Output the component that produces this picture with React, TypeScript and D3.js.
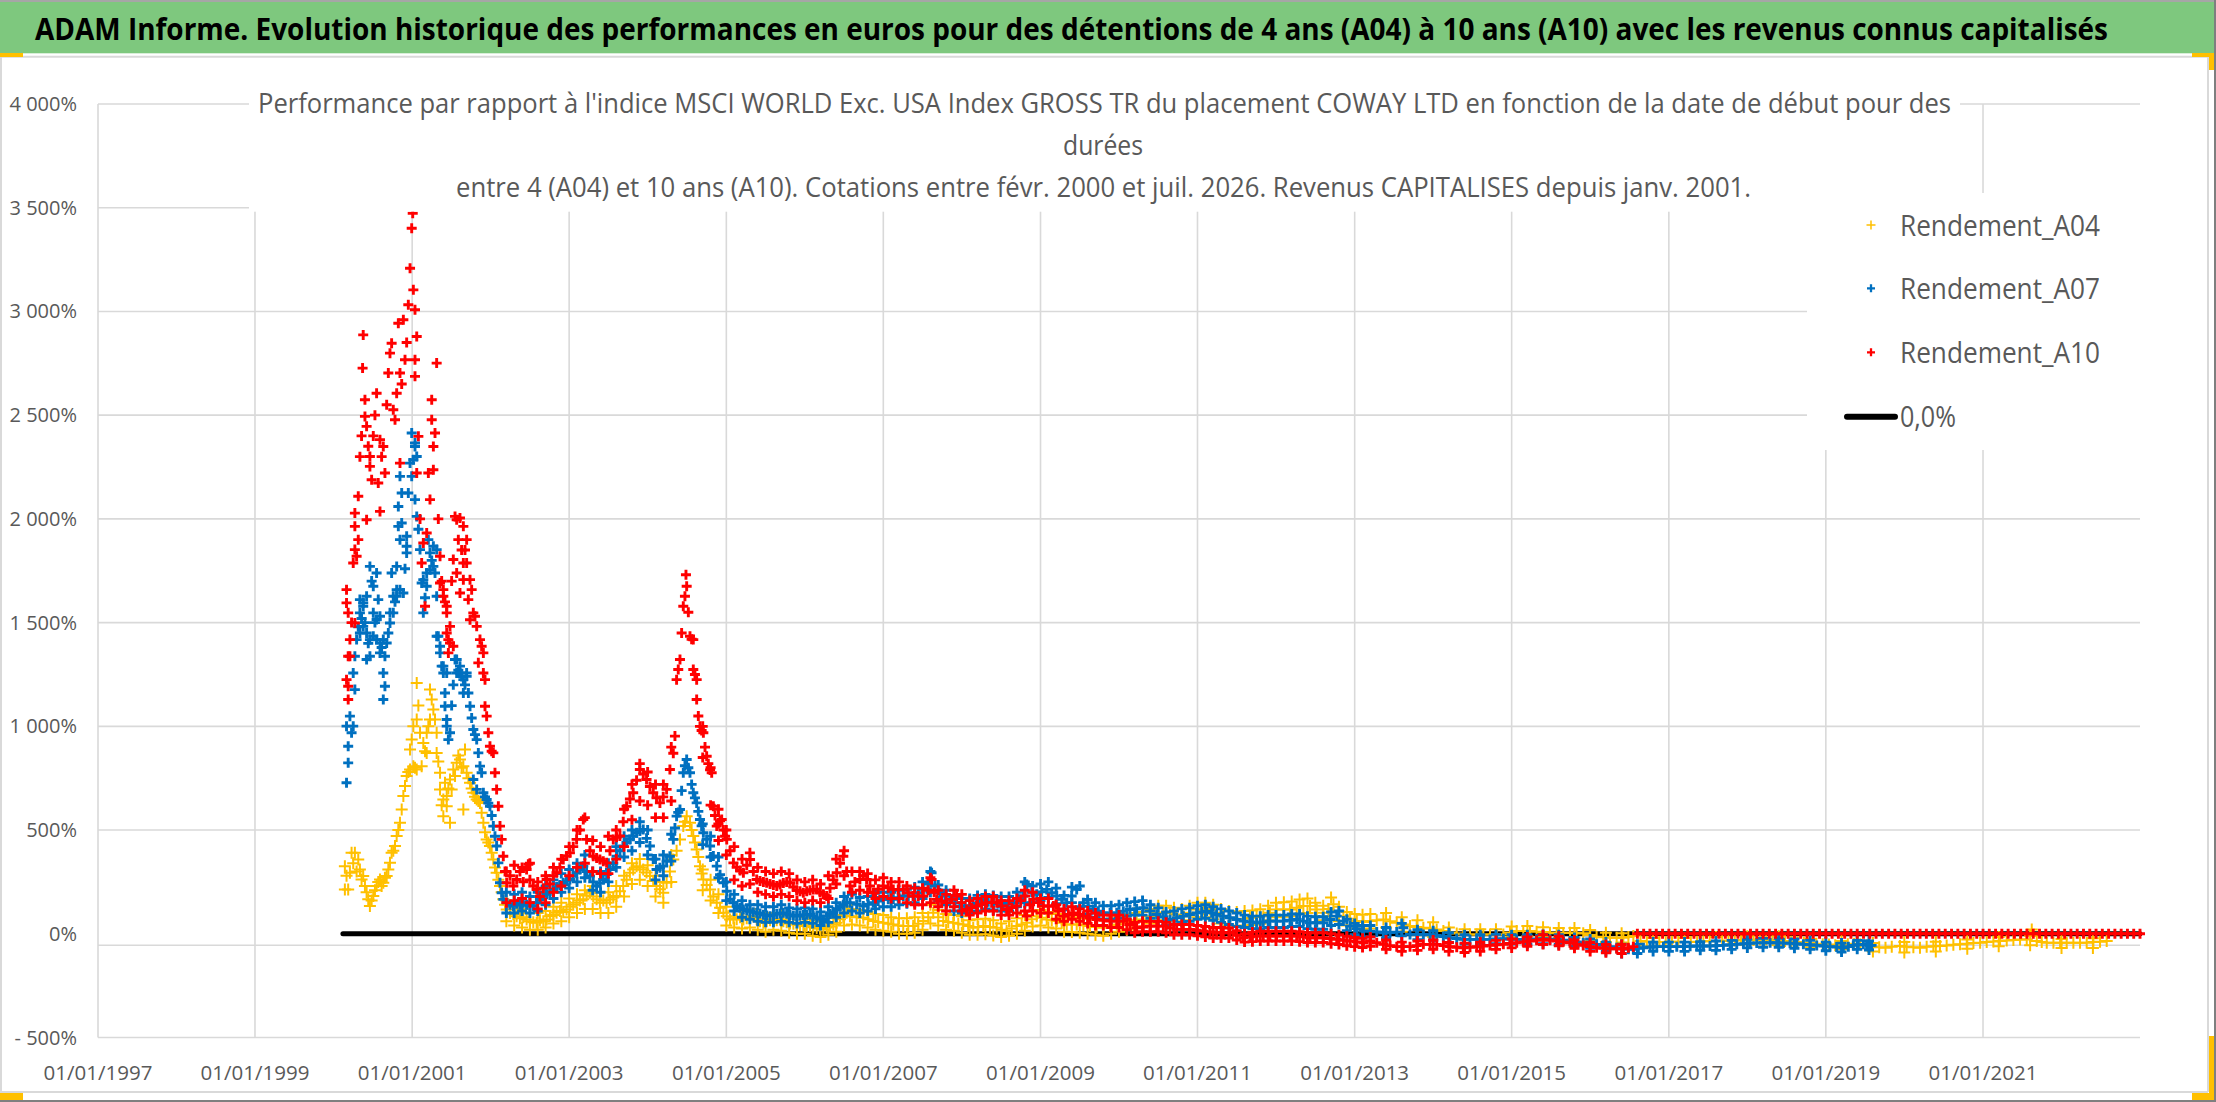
import React from "react";
import * as d3 from "d3";

// [decimal year of start date, performance in %] — single readings and spikes
const A04: [number, number][] = [
  [2000.145,326],[2000.145,214],[2000.166,280],[2000.187,214],[2000.209,294],[2000.230,390],[2000.251,340],[2000.272,390],[2000.294,300],[2000.315,358],[2000.336,310],[2000.357,262],[2000.378,278],[2000.400,230],[2000.421,200],[2000.442,166],[2000.463,134],[2000.485,160],[2000.506,182],[2000.527,210],[2000.548,230],[2000.569,250],[2000.591,262],[2000.612,230],[2000.633,246],[2000.654,270],[2000.676,278],[2000.697,310],[2000.718,342],[2000.739,390],[2000.760,400],[2000.782,423],[2000.803,471],[2000.824,500],[2000.845,535],[2000.867,599],[2000.888,664],[2000.909,712],[2000.930,760],[2000.951,780],[2000.973,792],[2000.994,936],[2001.015,808],[2001.015,1001],[2001.036,800],[2001.058,792],[2001.058,1033],[2001.058,1209],[2000.973,888],[2001.079,1100],[2001.100,969],[2001.121,808],[2001.142,920],[2001.164,880],[2001.185,969],[2001.185,872],[2001.206,1000],[2001.227,1033],[2001.227,1177],[2001.249,1129],[2001.270,1081],[2001.291,1033],[2001.312,969],[2001.312,872],[2001.333,830],[2001.355,776],[2001.355,696],[2001.376,620],[2001.397,647],[2001.397,567],[2001.418,728],[2001.440,615],[2001.440,664],[2001.461,700],[2001.482,535],[2001.482,744],[2001.503,696],[2001.524,792],[2001.546,760],[2001.567,824],[2001.588,860],[2001.609,840],[2001.630,800],[2001.652,808],[2001.652,599],[2001.673,888],[2001.694,776],[2001.716,750],[2001.737,728],[2001.758,700],[2001.779,680],[2001.800,660],[2001.822,647],[2001.843,640],[2001.864,631],[2001.885,583],[2001.907,535],[2001.928,490],[2001.949,455],[2001.970,440],[2001.991,423],[2002.013,390],[2002.034,358],[2002.055,320],[2002.076,294],[2002.098,260],[2002.119,230],[2002.140,200],[2002.161,166],
  [2002.183,140],[2002.204,117],[2002.246,100],[2002.289,95],[2002.331,85],[2002.373,75],[2002.416,80],[2002.458,69],[2002.500,60],[2002.543,55],[2002.586,53],[2002.628,65],[2002.671,60],[2002.713,69],[2002.755,85],[2002.798,90],[2002.840,101],[2002.882,110],[2002.925,105],[2002.967,117],[2003.010,130],[2003.052,140],[2003.095,150],[2003.137,160],[2003.180,166],[2003.222,185],[2003.265,198],[2003.307,180],[2003.350,166],[2003.392,150],[2003.435,160],[2003.477,150],[2003.520,165],[2003.562,175],[2003.604,182],[2003.647,205],[2003.689,230],[2003.732,260],[2003.774,294],[2003.816,310],[2003.859,326],[2003.901,320],[2003.944,310],[2003.986,295],[2004.029,278],[2004.071,255],[2004.113,230],[2004.156,215],[2004.198,198],[2004.241,246],[2004.283,300],[2004.326,358],[2004.368,400],[2004.411,455],[2004.453,519],[2004.474,540],[2004.496,567],[2004.538,535],[2004.559,500],[2004.580,471],[2004.601,440],[2004.623,406],[2004.644,370],[2004.665,326],[2004.686,290],[2004.708,262],[2004.750,235],[2004.793,214],[2004.835,180],[2004.878,150],[2004.920,125],[2004.963,101],[2005.005,85],[2005.047,69],[2005.090,75],[2005.132,70],[2005.175,80],[2005.217,69],[2005.260,75],[2005.302,80],[2005.344,85],[2005.387,70],[2005.429,60],[2005.472,53],[2005.514,60],[2005.557,65],[2005.599,70],[2005.642,65],[2005.684,69],[2005.726,60],[2005.769,55],[2005.811,50],[2005.854,48],[2005.896,45],[2005.939,42],[2005.981,40],[2006.024,38],[2006.066,37],[2006.108,32],[2006.151,28],[2006.193,25],[2006.236,21],[2006.278,30],[2006.321,35],[2006.363,45],[2006.406,53],[2006.448,70],[2006.490,85],[2006.533,101],
  [2006.575,85],[2006.660,80],[2006.745,77],[2006.808,70],[2006.872,61],[2006.935,57],[2006.999,53],[2007.063,48],[2007.127,45],[2007.190,40],[2007.254,37],[2007.318,38],[2007.381,37],[2007.445,48],[2007.509,61],[2007.572,80],[2007.636,101],[2007.700,80],[2007.764,61],[2007.827,57],[2007.891,53],[2007.955,48],[2008.018,45],[2008.082,37],[2008.145,29],[2008.209,33],[2008.273,37],[2008.358,33],[2008.443,29],[2008.506,20],[2008.570,13],[2008.633,25],[2008.697,37],[2008.761,45],[2008.825,53],[2008.889,70],[2008.952,85],[2009.015,77],[2009.079,69],[2009.143,65],[2009.207,61],[2009.270,53],[2009.334,45],[2009.397,45],[2009.461,45],[2009.546,41],[2009.631,37],[2009.716,33],[2009.801,29],[2009.886,37],[2009.971,45],[2010.055,53],[2010.140,61],[2010.225,65],[2010.310,69],[2010.395,85],[2010.480,101],[2010.565,101],[2010.650,101],[2010.735,93],[2010.820,85],[2010.904,101],[2010.989,117],[2011.074,117],[2011.159,117],[2011.244,101],[2011.329,85],[2011.414,77],[2011.499,69],[2011.584,73],[2011.668,77],[2011.753,81],[2011.838,85],[2011.923,101],[2012.008,117],[2012.093,117],[2012.178,117],[2012.263,126],[2012.348,134],[2012.433,134],[2012.518,117],[2012.602,101],[2012.666,120],[2012.730,142],[2012.793,110],[2012.857,85],[2012.942,73],[2013.027,61],[2013.112,57],
  [2013.196,61],[2013.281,65],[2013.366,69],[2013.451,60],[2013.536,53],[2013.620,45],[2013.705,37],[2013.790,33],[2013.875,29],[2013.960,25],[2014.045,21],[2014.130,13],[2014.215,5],[2014.300,1],[2014.384,-3],[2014.469,-3],[2014.554,-3],[2014.639,-3],[2014.724,-3],[2014.809,-3],[2014.894,-3],[2014.979,5],[2015.064,13],[2015.148,13],[2015.233,13],[2015.318,10],[2015.403,8],[2015.488,5],[2015.573,2],[2015.658,4],[2015.743,5],[2015.827,3],[2015.912,2],[2015.997,-6],[2016.082,-14],[2016.167,-17],[2016.252,-19],[2016.337,-19],[2016.422,-19],[2016.486,-15],[2016.549,-11],
  [2016.640,-35],[2016.720,-38],[2016.800,-38],[2016.880,-40],[2016.960,-40],[2017.040,-38],[2017.120,-38],[2017.200,-40],[2017.280,-40],[2017.360,-38],[2017.440,-36],[2017.520,-36],[2017.600,-35],[2017.680,-35],[2017.760,-33],[2017.840,-32],[2017.920,-30],[2018.000,-30],[2018.080,-30],[2018.160,-28],[2018.240,-28],[2018.320,-30],[2018.400,-32],[2018.480,-35],[2018.560,-38],[2018.640,-40],[2018.720,-42],[2018.800,-45],[2018.880,-48],[2018.960,-50],[2019.040,-52],[2019.120,-55],[2019.200,-55],[2019.280,-50],[2019.360,-48],[2019.440,-50],[2019.520,-55],[2019.600,-62],[2019.680,-65],[2019.760,-67],[2019.840,-62],[2019.944,-59],[2020.030,-62],[2020.115,-65],[2020.199,-67],[2020.284,-63],[2020.369,-60],[2020.453,-59],[2020.538,-56],[2020.623,-53],[2020.708,-51],[2020.793,-48],[2020.878,-45],[2020.963,-43],[2021.047,-40],[2021.132,-37],[2021.217,-35],[2021.302,-32],[2021.387,-30],[2021.472,-28],[2021.557,-27],[2021.621,21],[2021.685,-35],[2021.748,-40],[2021.812,-43],[2021.897,-43],[2021.982,-43],[2022.066,-43],[2022.151,-43],[2022.236,-43],[2022.321,-43],[2022.406,-40],[2022.491,-38],[2022.576,-35],
];

const A07: [number, number][] = [
  [2000.166,728],[2000.166,1001],[2000.187,824],[2000.187,904],[2000.209,1049],[2000.230,969],[2000.251,1001],[2000.251,1257],[2000.272,1177],[2000.272,1338],[2000.294,1418],[2000.315,1480],[2000.336,1450],[2000.336,1611],[2000.336,1547],[2000.357,1520],[2000.378,1482],[2000.378,1579],[2000.378,1595],[2000.400,1500],[2000.421,1450],[2000.421,1627],[2000.421,1322],[2000.442,1400],[2000.463,1418],[2000.463,1338],[2000.463,1771],[2000.485,1700],[2000.506,1434],[2000.506,1675],[2000.506,1547],[2000.527,1500],[2000.548,1418],[2000.548,1739],[2000.548,1515],[2000.569,1611],[2000.591,1402],[2000.591,1531],[2000.591,1354],[2000.612,1380],[2000.633,1418],[2000.633,1257],[2000.633,1129],[2000.654,1338],[2000.654,1193],[2000.676,1402],[2000.697,1450],[2000.718,1498],[2000.718,1547],[2000.739,1739],[2000.760,1547],[2000.760,1627],[2000.782,1600],[2000.803,1627],[2000.803,1771],[2000.803,1659],[2000.824,2060],[2000.824,1964],[2000.845,1659],[2000.845,1900],[2000.845,2205],[2000.867,1980],[2000.867,2125],[2000.888,1643],[2000.909,1760],[2000.930,1916],[2000.930,1836],[2000.930,1868],[2000.951,2125],[2000.973,2269],[2000.994,2205],[2000.994,2414],[2001.015,2285],[2001.036,2349],[2001.036,2366],[2001.036,2093],[2001.058,2012],[2001.058,2301],[2001.079,1950],[2001.100,1852],[2001.121,1691],[2001.142,1707],[2001.142,1547],[2001.164,1620],[2001.185,1675],[2001.185,1739],[2001.206,1900],[2001.227,1755],[2001.227,1836],[2001.249,1800],[2001.270,1771],[2001.270,1868],[2001.291,1739],[2001.312,1852],[2001.312,1627],[2001.312,1434],[2001.333,1434],[2001.355,1386],[2001.355,1354],[2001.376,1290],[2001.397,1257],[2001.397,1290],[2001.418,1161],[2001.418,1097],[2001.440,1001],[2001.440,1257],[2001.440,1033],[2001.461,936],[2001.482,969],[2001.503,1100],[2001.524,1200],[2001.546,1322],[2001.567,1257],[2001.567,1322],[2001.588,1270],[2001.609,1290],[2001.609,1257],[2001.630,1240],[2001.652,1225],[2001.652,1161],[2001.673,1200],[2001.694,1257],[2001.694,1241],[2001.716,1161],[2001.737,1097],[2001.758,1040],[2001.779,985],[2001.779,744],[2001.800,960],[2001.822,936],[2001.822,696],[2001.843,872],[2001.864,808],[2001.885,776],[2001.907,680],[2001.928,660],[2001.949,647],[2001.970,630],[2001.991,615],[2002.013,570],[2002.034,519],[2002.055,470],[2002.076,423],[2002.098,342],[2002.119,246],[2002.140,198],[2002.161,166],
  [2002.204,150],[2002.246,140],[2002.289,134],[2002.331,145],[2002.373,140],[2002.416,150],[2002.458,140],[2002.500,135],[2002.543,134],[2002.586,150],[2002.628,165],[2002.671,182],[2002.713,190],[2002.755,200],[2002.798,214],[2002.840,225],[2002.882,235],[2002.925,246],[2002.967,255],[2003.010,262],[2003.052,280],[2003.095,294],[2003.137,310],[2003.180,326],[2003.222,300],[2003.265,278],[2003.307,250],[2003.350,230],[2003.392,245],[2003.435,262],[2003.477,285],[2003.520,310],[2003.562,340],[2003.604,374],[2003.647,400],[2003.689,423],[2003.732,440],[2003.774,455],[2003.816,470],[2003.859,487],[2003.901,495],[2003.944,503],[2003.986,460],[2004.029,423],[2004.071,360],[2004.113,310],[2004.156,318],[2004.198,326],[2004.241,350],[2004.283,374],[2004.326,455],[2004.347,510],[2004.368,567],[2004.389,585],[2004.411,599],[2004.432,690],[2004.453,776],[2004.474,810],[2004.496,840],[2004.517,800],[2004.538,776],[2004.559,720],[2004.580,680],[2004.601,655],[2004.623,631],[2004.644,590],[2004.665,551],[2004.686,520],[2004.708,487],[2004.750,455],[2004.793,423],[2004.835,375],[2004.878,326],[2004.920,285],[2004.963,246],[2005.005,205],[2005.047,166],[2005.090,150],[2005.132,135],[2005.175,125],[2005.217,117],[2005.260,112],[2005.302,108],[2005.344,104],[2005.387,101],[2005.429,98],[2005.472,92],[2005.514,88],[2005.557,85],[2005.599,90],[2005.642,95],[2005.684,98],[2005.726,101],[2005.769,96],[2005.811,90],[2005.854,87],[2005.896,85],[2005.939,88],[2005.981,91],[2006.024,92],[2006.066,93],[2006.108,85],[2006.151,78],[2006.193,73],[2006.236,69],[2006.278,85],[2006.321,95],[2006.363,105],[2006.406,117],[2006.448,130],[2006.490,140],[2006.533,150],
  [2006.575,150],[2006.660,142],[2006.745,134],[2006.808,142],[2006.872,150],[2006.935,158],[2006.999,166],[2007.063,166],[2007.127,166],[2007.190,174],[2007.254,182],[2007.318,182],[2007.381,182],[2007.445,198],[2007.509,214],[2007.572,240],[2007.615,294],[2007.658,230],[2007.721,198],[2007.785,182],[2007.848,166],[2007.912,150],[2007.976,134],[2008.040,134],[2008.103,134],[2008.188,146],[2008.273,158],[2008.336,154],[2008.400,150],[2008.464,146],[2008.528,142],[2008.591,146],[2008.655,150],[2008.718,166],[2008.782,182],[2008.825,238],[2008.888,200],[2008.952,190],[2009.015,202],[2009.079,214],[2009.143,198],[2009.207,182],[2009.270,166],[2009.334,150],[2009.397,182],[2009.461,214],[2009.546,150],[2009.610,133],[2009.674,117],[2009.737,109],[2009.801,101],[2009.886,101],[2009.971,101],[2010.055,109],[2010.140,117],[2010.225,121],[2010.310,126],[2010.395,110],[2010.480,93],[2010.565,81],[2010.650,69],[2010.735,77],[2010.820,85],[2010.904,93],[2010.989,101],[2011.053,105],[2011.117,109],[2011.180,101],[2011.244,93],[2011.329,85],[2011.414,77],[2011.499,69],[2011.584,61],[2011.668,57],[2011.753,53],[2011.838,57],[2011.923,61],[2012.008,61],[2012.093,61],[2012.178,65],[2012.263,69],[2012.348,61],[2012.433,53],[2012.518,53],[2012.602,53],[2012.687,69],[2012.772,85],[2012.857,61],[2012.942,37],[2013.027,25],[2013.112,13],
  [2013.196,13],[2013.281,9],[2013.366,5],[2013.451,6],[2013.536,8],[2013.620,29],[2013.705,-3],[2013.790,-3],[2013.875,-3],[2013.960,-5],[2014.045,-8],[2014.130,-13],[2014.215,-19],[2014.300,-23],[2014.384,-27],[2014.469,-27],[2014.554,-27],[2014.639,-27],[2014.724,-27],[2014.809,-25],[2014.894,-24],[2014.979,-26],[2015.064,-27],[2015.148,-27],[2015.233,-27],[2015.318,-25],[2015.403,-24],[2015.488,-26],[2015.573,-27],[2015.658,-31],[2015.743,-35],[2015.827,-39],[2015.912,-43],[2015.997,-47],[2016.082,-51],[2016.167,-56],[2016.252,-62],[2016.337,-67],[2016.422,-72],[2016.486,-74],[2016.549,-75],[2016.613,-70],[2016.677,-67],[2016.762,-64],[2016.846,-62],[2016.931,-62],[2017.016,-62],[2017.101,-62],[2017.186,-62],[2017.271,-60],[2017.356,-59],[2017.441,-59],[2017.525,-59],[2017.610,-57],[2017.695,-56],[2017.780,-53],[2017.865,-51],[2017.950,-48],[2018.035,-46],[2018.120,-44],[2018.205,-43],[2018.290,-43],[2018.374,-43],[2018.459,-45],[2018.544,-46],[2018.629,-48],[2018.714,-51],[2018.799,-53],[2018.884,-56],[2018.969,-59],[2019.053,-62],[2019.138,-64],[2019.223,-67],[2019.287,-62],[2019.350,-56],[2019.414,-53],[2019.478,-51],[2019.520,-53],[2019.563,-56],[2019.583,-56],
];

const A10: [number, number][] = [
  [2000.166,1659],[2000.166,1595],[2000.166,1225],[2000.187,1547],[2000.187,1338],[2000.187,1193],[2000.187,1129],[2000.209,1418],[2000.209,1338],[2000.230,1500],[2000.251,1787],[2000.272,2028],[2000.272,1964],[2000.272,1852],[2000.272,1498],[2000.294,1820],[2000.315,2109],[2000.315,1900],[2000.336,2300],[2000.357,2400],[2000.370,2727],[2000.378,2887],[2000.400,2574],[2000.400,2494],[2000.421,2446],[2000.421,1996],[2000.442,2350],[2000.463,2301],[2000.463,2253],[2000.485,2189],[2000.506,2400],[2000.527,2500],[2000.548,2606],[2000.569,2173],[2000.591,2382],[2000.591,2036],[2000.612,2300],[2000.633,2349],[2000.654,2221],[2000.676,2550],[2000.697,2703],[2000.718,2799],[2000.739,2847],[2000.760,2526],[2000.782,2478],[2000.803,2606],[2000.824,2943],[2000.845,2703],[2000.845,2269],[2000.867,2650],[2000.888,2960],[2000.909,2767],[2000.930,2850],[2000.951,3032],[2000.973,3208],[2000.994,3401],[2001.007,3473],[2001.015,3104],[2001.036,3008],[2001.036,2767],[2001.036,2687],[2001.058,2879],[2001.058,2221],[2001.079,2398],[2001.100,2000],[2001.121,1787],[2001.142,1884],[2001.164,1579],[2001.185,1932],[2001.206,2221],[2001.227,2093],[2001.249,2574],[2001.249,2478],[2001.270,2349],[2001.270,2237],[2001.291,2414],[2001.312,2751],[2001.333,2000],[2001.355,1820],[2001.355,1691],[2001.376,1700],[2001.397,1659],[2001.397,1627],[2001.418,1600],[2001.440,1579],[2001.440,1450],[2001.440,1547],[2001.461,1354],[2001.461,1418],[2001.482,1402],[2001.482,1482],[2001.503,1700],[2001.524,1804],[2001.524,1386],[2001.546,2012],[2001.567,1996],[2001.567,1739],[2001.588,1900],[2001.609,2004],[2001.609,1643],[2001.630,1850],[2001.652,1964],[2001.652,1707],[2001.652,1787],[2001.673,1850],[2001.694,1900],[2001.694,1787],[2001.715,1611],[2001.737,1514],[2001.737,1707],[2001.758,1659],[2001.779,1547],[2001.800,1531],[2001.822,1482],[2001.843,1306],[2001.864,1418],[2001.885,1386],[2001.907,1257],[2001.907,1354],[2001.928,1225],[2001.928,1097],[2001.949,1049],[2001.970,969],[2001.991,904],[2002.013,880],[2002.034,872],[2002.055,776],[2002.076,696],[2002.098,615],[2002.119,519],[2002.140,455],[2002.161,374],
  [2002.183,300],[2002.204,246],[2002.246,280],[2002.289,230],[2002.331,262],[2002.373,300],[2002.416,250],[2002.458,310],[2002.480,335],[2002.500,260],[2002.543,230],[2002.586,214],[2002.628,180],[2002.671,220],[2002.713,262],[2002.755,240],[2002.798,280],[2002.840,294],[2002.882,320],[2002.925,358],[2002.967,375],[2003.010,390],[2003.052,420],[2003.095,455],[2003.137,500],[2003.180,551],[2003.222,455],[2003.265,400],[2003.307,374],[2003.350,365],[2003.392,358],[2003.435,350],[2003.477,342],[2003.520,400],[2003.562,455],[2003.604,465],[2003.647,471],[2003.689,540],[2003.732,615],[2003.774,650],[2003.816,680],[2003.859,740],[2003.901,792],[2003.944,770],[2003.986,744],[2004.029,710],[2004.071,680],[2004.113,655],[2004.156,631],[2004.198,660],[2004.241,696],[2004.283,792],[2004.326,870],[2004.347,953],[2004.368,1225],[2004.389,1274],[2004.411,1322],[2004.432,1450],[2004.453,1579],[2004.474,1627],[2004.487,1731],[2004.496,1675],[2004.517,1550],[2004.538,1434],[2004.559,1420],[2004.580,1418],[2004.580,1274],[2004.601,1250],[2004.623,1225],[2004.623,1129],[2004.644,1050],[2004.665,1000],[2004.686,980],[2004.708,969],[2004.729,900],[2004.750,856],[2004.771,820],[2004.793,790],[2004.814,776],[2004.835,615],[2004.856,570],[2004.878,519],[2004.899,530],[2004.920,545],[2004.941,551],[2004.963,500],[2004.984,470],[2005.005,455],[2005.047,400],[2005.090,342],[2005.132,320],[2005.175,305],[2005.217,294],[2005.260,330],[2005.302,358],[2005.344,300],[2005.387,262],[2005.429,255],[2005.472,250],[2005.514,246],[2005.557,240],[2005.599,235],[2005.642,230],[2005.684,238],[2005.726,245],[2005.769,250],[2005.811,246],[2005.854,225],[2005.896,210],[2005.939,205],[2005.981,198],[2006.024,205],[2006.066,210],[2006.108,214],[2006.151,214],[2006.193,200],[2006.236,190],[2006.278,182],[2006.321,220],[2006.363,260],[2006.406,294],[2006.448,340],[2006.490,374],[2006.533,300],
  [2006.575,230],[2006.638,250],[2006.702,262],[2006.745,280],[2006.787,262],[2006.830,230],[2006.872,198],[2006.935,215],[2006.999,230],[2007.063,222],[2007.127,214],[2007.190,214],[2007.254,214],[2007.318,198],[2007.381,182],[2007.445,182],[2007.509,182],[2007.572,210],[2007.615,262],[2007.647,200],[2007.679,166],[2007.742,158],[2007.806,150],[2007.870,166],[2007.933,182],[2007.997,150],[2008.061,117],[2008.125,126],[2008.188,134],[2008.252,142],[2008.315,150],[2008.379,150],[2008.443,150],[2008.506,134],[2008.570,117],[2008.633,126],[2008.697,134],[2008.750,160],[2008.803,182],[2008.825,85],[2008.867,140],[2008.909,166],[2008.973,150],[2009.037,134],[2009.100,134],[2009.164,134],[2009.228,110],[2009.291,85],[2009.355,93],[2009.419,101],[2009.482,93],[2009.546,85],[2009.631,77],[2009.716,69],[2009.801,65],[2009.886,61],[2009.971,61],[2010.055,61],[2010.140,45],[2010.225,29],[2010.310,33],[2010.395,37],[2010.480,37],[2010.565,37],[2010.650,29],[2010.735,21],[2010.820,21],[2010.904,21],[2010.989,17],[2011.074,13],[2011.159,9],[2011.244,5],[2011.329,5],[2011.414,5],[2011.499,-7],[2011.584,-19],[2011.668,-15],[2011.753,-11],[2011.838,-11],[2011.923,-11],[2012.008,-11],[2012.093,-11],[2012.178,-11],[2012.263,-11],[2012.348,-15],[2012.433,-19],[2012.518,-19],[2012.602,-19],[2012.687,-23],[2012.772,-27],[2012.857,-31],[2012.942,-35],[2013.027,-39],[2013.112,-43],
  [2013.196,-35],[2013.281,-43],[2013.366,-51],[2013.451,-57],[2013.536,-62],[2013.620,-62],[2013.705,-62],[2013.790,-57],[2013.875,-51],[2013.960,-51],[2014.045,-51],[2014.130,-57],[2014.215,-62],[2014.300,-65],[2014.384,-67],[2014.469,-65],[2014.554,-62],[2014.639,-59],[2014.724,-56],[2014.809,-53],[2014.894,-51],[2014.979,-47],[2015.064,-43],[2015.148,-39],[2015.233,-35],[2015.318,-31],[2015.403,-27],[2015.488,-31],[2015.573,-35],[2015.658,-39],[2015.743,-43],[2015.827,-50],[2015.912,-56],[2015.997,-62],[2016.082,-67],[2016.167,-70],[2016.252,-72],[2016.337,-72],[2016.422,-72],[2016.486,-67],[2016.549,-62],
  [2016.60,0],[2016.68,0],[2016.76,0],[2016.84,0],[2016.92,0],[2017.00,0],[2017.08,0],[2017.16,0],[2017.24,0],[2017.32,0],[2017.40,0],[2017.48,0],[2017.56,0],[2017.64,0],[2017.72,0],[2017.80,0],[2017.88,0],[2017.96,0],[2018.04,0],[2018.12,0],[2018.20,0],[2018.28,0],[2018.36,0],[2018.44,0],[2018.52,0],
  [2018.60,0],[2018.68,0],[2018.76,0],[2018.84,0],[2018.92,0],[2019.00,0],[2019.08,0],[2019.16,0],[2019.24,0],[2019.32,0],[2019.40,0],[2019.48,0],[2019.56,0],[2019.64,0],[2019.72,0],[2019.80,0],[2019.88,0],[2019.96,0],[2020.04,0],[2020.12,0],[2020.20,0],[2020.28,0],[2020.36,0],[2020.44,0],[2020.52,0],
  [2020.60,0],[2020.68,0],[2020.76,0],[2020.84,0],[2020.92,0],[2021.00,0],[2021.08,0],[2021.16,0],[2021.24,0],[2021.32,0],[2021.40,0],[2021.48,0],[2021.56,0],[2021.64,0],[2021.72,0],[2021.80,0],[2021.88,0],[2021.96,0],[2022.04,0],[2022.12,0],[2022.20,0],[2022.28,0],[2022.36,0],[2022.44,0],[2022.52,0],
  [2022.60,0],[2022.68,0],[2022.76,0],[2022.84,0],[2022.92,0],[2023.00,0],
];

// [decimal year, lowest, highest] — edges of the dense daily bands
const A04_BAND: [number, number, number][] = [
  [2002.2,60,160],[2002.3,40,130],[2002.4,30,120],[2002.5,20,100],[2002.6,20,100],[2002.7,30,110],[2002.8,50,130],[2002.9,60,150],[2003.0,80,170],[2003.1,100,190],[2003.2,120,210],[2003.3,120,230],[2003.4,100,200],[2003.5,100,200],[2003.6,130,230],[2003.7,180,280],[2003.8,240,340],[2003.9,260,360],[2004.0,230,330],[2004.1,180,280],[2004.2,150,250],[2004.3,250,380],
  [2004.7,210,310],[2004.8,160,260],[2004.9,100,190],[2005.0,40,130],[2005.1,30,110],[2005.2,25,110],[2005.3,30,120],[2005.4,20,100],[2005.5,10,95],[2005.6,20,100],[2005.7,15,100],[2005.8,5,90],[2005.9,0,85],[2006.0,0,80],[2006.1,-10,70],[2006.2,-15,60],[2006.3,-5,75],[2006.4,10,90],[2006.5,40,130],
  [2006.6,45,120],[2006.7,40,115],[2006.8,30,105],[2006.9,20,95],[2007.0,15,90],[2007.1,10,80],[2007.2,0,75],[2007.3,0,75],[2007.4,5,80],[2007.5,20,100],[2007.6,50,140],[2007.7,40,115],[2007.8,20,95],[2007.9,15,90],[2008.0,5,85],[2008.1,-5,65],[2008.2,-5,70],[2008.3,-2,72],[2008.4,-8,65],[2008.5,-15,50],[2008.6,-10,60],[2008.7,0,75],[2008.8,15,90],[2008.9,35,110],
  [2009.0,40,115],[2009.1,30,105],[2009.2,25,95],[2009.3,10,80],[2009.4,8,80],[2009.5,5,75],[2009.6,0,72],[2009.7,-5,70],[2009.8,-10,65],[2009.9,0,72],[2010.0,10,80],[2010.1,20,95],[2010.2,30,100],[2010.3,35,105],[2010.4,50,120],[2010.5,65,135],[2010.6,65,135],[2010.7,60,125],[2010.8,50,120],[2010.9,65,135],
  [2011.0,80,150],[2011.1,80,150],[2011.2,70,140],[2011.3,50,120],[2011.4,40,110],[2011.5,35,105],[2011.6,40,110],[2011.7,42,112],[2011.8,48,118],[2011.9,65,135],[2012.0,80,150],[2012.1,82,152],[2012.2,85,155],[2012.3,95,165],[2012.4,100,170],[2012.5,85,150],[2012.6,65,135],[2012.7,85,175],[2012.8,60,130],[2012.9,40,105],
  [2013.0,25,95],[2013.1,22,92],[2013.2,25,95],[2013.4,30,100],[2013.6,10,80],[2013.8,-5,65],[2014.0,-15,55],[2014.2,-20,30],[2014.4,-28,22],[2014.6,-28,22],[2014.8,-28,22],[2015.0,-15,35],[2015.2,-12,38],[2015.4,-15,32],[2015.6,-20,28],[2015.8,-20,28],[2016.0,-30,18],[2016.2,-40,5],[2016.4,-42,2],
  [2016.8,-60,-20],[2017.2,-60,-20],[2017.6,-55,-15],[2018.0,-50,-12],[2018.4,-55,-12],[2018.8,-65,-25],[2019.2,-75,-35],[2019.6,-85,-45],[2020.0,-90,-40],[2020.4,-85,-38],[2020.8,-72,-28],[2021.2,-60,-15],[2021.6,-55,-10],[2022.0,-68,-25],[2022.4,-68,-22],
];

const A07_BAND: [number, number, number][] = [
  [2002.2,100,200],[2002.3,100,190],[2002.4,110,200],[2002.5,100,180],[2002.6,110,200],[2002.7,140,230],[2002.8,170,260],[2002.9,200,290],[2003.0,220,310],[2003.1,250,340],[2003.2,270,380],[2003.3,210,300],[2003.4,200,300],[2003.5,250,340],[2003.6,320,420],[2003.7,370,470],[2003.8,400,500],[2003.9,440,540],[2004.0,380,500],[2004.1,260,360],[2004.2,280,380],[2004.3,350,480],
  [2004.7,430,530],[2004.8,370,470],[2004.9,270,370],[2005.0,160,250],[2005.1,110,190],[2005.2,80,160],[2005.3,70,140],[2005.4,60,140],[2005.5,55,130],[2005.6,55,130],[2005.7,60,140],[2005.8,55,125],[2005.9,50,120],[2006.0,55,125],[2006.1,50,120],[2006.2,40,105],[2006.3,55,130],[2006.4,80,150],[2006.5,100,180],
  [2006.6,110,190],[2006.7,100,175],[2006.8,110,180],[2006.9,120,195],[2007.0,130,200],[2007.1,130,200],[2007.2,140,210],[2007.3,145,215],[2007.4,150,225],[2007.5,170,250],[2007.6,200,300],[2007.7,160,235],[2007.8,140,210],[2007.9,110,185],[2008.0,100,170],[2008.1,100,170],[2008.2,110,185],[2008.3,120,190],[2008.4,115,185],[2008.5,110,180],[2008.6,110,180],[2008.7,130,200],[2008.8,150,250],[2008.9,150,230],
  [2009.0,160,240],[2009.1,175,250],[2009.2,145,220],[2009.3,115,185],[2009.4,150,225],[2009.5,130,230],[2009.6,95,165],[2009.7,80,150],[2009.8,70,135],[2009.9,70,135],[2010.0,75,140],[2010.1,85,150],[2010.2,90,155],[2010.3,90,160],[2010.4,75,140],[2010.5,60,125],[2010.6,40,105],[2010.7,45,110],[2010.8,55,120],[2010.9,60,125],
  [2011.0,70,135],[2011.1,75,140],[2011.2,65,130],[2011.3,55,120],[2011.4,45,110],[2011.5,35,100],[2011.6,30,90],[2011.7,25,85],[2011.8,25,85],[2011.9,30,90],[2012.0,30,90],[2012.1,30,90],[2012.2,35,95],[2012.3,35,95],[2012.4,25,85],[2012.5,22,82],[2012.6,22,82],[2012.7,40,105],[2012.8,45,110],[2012.9,15,70],
  [2013.0,-5,50],[2013.1,-15,40],[2013.2,-15,40],[2013.4,-20,30],[2013.6,-10,50],[2013.8,-28,20],[2014.0,-32,15],[2014.2,-42,5],[2014.4,-50,-5],[2014.6,-50,-5],[2014.8,-48,-3],[2015.0,-50,-5],[2015.2,-50,-5],[2015.4,-48,-3],[2015.6,-52,-5],[2015.8,-60,-18],[2016.0,-70,-25],[2016.2,-85,-40],[2016.4,-95,-50],
  [2016.6,-95,-50],[2016.8,-85,-40],[2017.0,-85,-40],[2017.2,-85,-40],[2017.4,-80,-38],[2017.6,-80,-35],[2017.8,-75,-32],[2018.0,-68,-25],[2018.2,-65,-22],[2018.4,-65,-22],[2018.6,-70,-25],[2018.8,-75,-32],[2019.0,-82,-40],[2019.2,-88,-45],[2019.4,-75,-32],[2019.55,-78,-35],
];

const A10_BAND: [number, number, number][] = [
  [2002.2,150,300],[2002.3,160,330],[2002.4,170,320],[2002.5,150,340],[2002.6,120,250],[2002.7,150,280],[2002.8,200,320],[2002.9,230,360],[2003.0,280,420],[2003.1,320,500],[2003.2,340,560],[2003.3,300,450],[2003.4,290,420],[2003.5,290,470],[2003.6,360,500],[2003.7,420,600],[2003.8,550,720],[2003.9,640,820],[2004.0,620,780],[2004.1,560,720],[2004.2,560,720],[2004.3,640,900],
  [2004.7,850,1000],[2004.8,620,800],[2004.9,450,600],[2005.0,380,500],[2005.1,260,420],[2005.2,230,360],[2005.3,240,390],[2005.4,200,320],[2005.5,190,300],[2005.6,180,290],[2005.7,190,300],[2005.8,180,290],[2005.9,160,260],[2006.0,150,250],[2006.1,160,260],[2006.2,150,240],[2006.3,170,280],[2006.4,240,360],[2006.5,280,400],
  [2006.6,200,300],[2006.7,210,300],[2006.8,200,290],[2006.9,170,260],[2007.0,180,270],[2007.1,170,250],[2007.2,170,250],[2007.3,150,230],[2007.4,140,220],[2007.5,140,220],[2007.6,150,270],[2007.7,130,210],[2007.8,110,190],[2007.9,130,210],[2008.0,110,190],[2008.1,90,160],[2008.2,100,170],[2008.3,110,180],[2008.4,110,180],[2008.5,90,160],[2008.6,90,160],[2008.7,100,170],[2008.8,110,210],[2008.9,110,200],
  [2009.0,100,170],[2009.1,100,170],[2009.2,70,140],[2009.3,60,120],[2009.4,70,130],[2009.5,60,120],[2009.6,50,110],[2009.7,40,100],[2009.8,40,90],[2009.9,30,90],[2010.0,30,90],[2010.1,20,70],[2010.2,5,55],[2010.3,10,60],[2010.4,10,60],[2010.5,10,60],[2010.6,5,55],[2010.7,-5,45],[2010.8,-5,45],[2010.9,-5,45],
  [2011.0,-10,40],[2011.1,-15,35],[2011.2,-20,30],[2011.3,-20,30],[2011.4,-20,28],[2011.5,-30,15],[2011.6,-40,0],[2011.7,-38,8],[2011.8,-35,12],[2011.9,-35,12],[2012.0,-35,12],[2012.1,-35,12],[2012.2,-35,12],[2012.3,-38,10],[2012.4,-42,5],[2012.5,-42,5],[2012.6,-42,5],[2012.7,-48,0],[2012.8,-52,-5],[2012.9,-58,-12],
  [2013.0,-62,-18],[2013.1,-66,-22],[2013.2,-60,-15],[2013.4,-75,-30],[2013.6,-85,-40],[2013.8,-80,-35],[2014.0,-75,-30],[2014.2,-85,-42],[2014.4,-90,-45],[2014.6,-85,-40],[2014.8,-75,-32],[2015.0,-68,-25],[2015.2,-60,-15],[2015.4,-52,-5],[2015.6,-58,-12],[2015.8,-70,-30],[2016.0,-85,-42],[2016.2,-92,-52],[2016.4,-95,-52],
];

// reference line "0,0%"
const ZERO_LINE: [number, number][] = [[2000.12, 0], [2023.0, 0]];

const X_TICK_YEARS = [1997, 1999, 2001, 2003, 2005, 2007, 2009, 2011, 2013, 2015, 2017, 2019, 2021];
const Y_TICKS = [-500, 0, 500, 1000, 1500, 2000, 2500, 3000, 3500, 4000];
const H_AXIS_AT = -55; // the horizontal axis line sits a little under 0

const TITLE = "ADAM Informe. Evolution historique des performances en euros pour des détentions de 4 ans (A04) à 10 ans (A10) avec les revenus connus capitalisés";
const SUBTITLE = [
  "Performance par rapport à l'indice MSCI WORLD Exc. USA Index GROSS TR  du placement COWAY LTD en fonction de la date de début pour des",
  "durées",
  "entre 4 (A04) et 10 ans (A10). Cotations entre févr. 2000 et juil. 2026. Revenus CAPITALISES depuis janv. 2001.",
];
const LEGEND = ["Rendement_A04", "Rendement_A07", "Rendement_A10", "0,0%"];

const GRID = "#d9d9d9";
const TEXT = "#595959";
const FONT = "'Open Sans', 'Liberation Sans', sans-serif";

const toDate = (y: number) => {
  const yr = Math.floor(y);
  const s = Date.UTC(yr, 0, 1);
  const e = Date.UTC(yr + 1, 0, 1);
  return new Date(s + (y - yr) * (e - s));
};

const plus = (r: number) => `M${-r},0H${r}M0,${-r}V${r}`;

const fr = d3.formatLocale({ decimal: ",", thousands: " ", grouping: [3], currency: ["", " €"] });
const fmtInt = fr.format(",d");
const fmtPct = (v: number) => (v < 0 ? "- " + fmtInt(-v) : fmtInt(v)) + "%";

const App = () => {
  const x = d3.scaleUtc().domain([toDate(1997), toDate(2023)]).range([98, 2140]);
  const y = d3.scaleLinear().domain([-500, 4000]).range([1037.5, 104]);
  const [x0, x1] = x.range();
  const [yb, yt] = y.range();

  const series = [
    { name: LEGEND[0], data: A04, band: A04_BAND, color: "#FFC000", r: 6, sw: 2, lr: 4.5, lsw: 1.5 },
    { name: LEGEND[1], data: A07, band: A07_BAND, color: "#0070C0", r: 5, sw: 2.9, lr: 4, lsw: 2.3 },
    { name: LEGEND[2], data: A10, band: A10_BAND, color: "#FF0000", r: 5, sw: 2.9, lr: 4, lsw: 2.3 },
  ];

  const zeroPath = d3.line<[number, number]>()
    .x((d) => x(toDate(d[0])))
    .y((d) => y(d[1]))(ZERO_LINE) as string;

  const legendY = [225, 288.3, 352.3, 416.7];

  return (
    <svg width={2216} height={1102} style={{ position: "absolute", left: 0, top: 0, background: "#fff" }}
      fontFamily={FONT}>
      {/* header band */}
      <rect x={0} y={0} width={2216} height={2} fill="#a6a6a6" />
      <rect x={0} y={2} width={2216} height={51.3} fill="#7ec87e" />
      <text transform="translate(35,40) scale(1,1.15)" fontSize={26} fontWeight="bold" fill="#000"
        textLength={2073} lengthAdjust="spacingAndGlyphs">{TITLE}</text>

      {/* chart frame */}
      <g fill="none" stroke={GRID} strokeWidth={2}>
        <line x1={0} y1={56.7} x2={2208} y2={56.7} />
        <line x1={1} y1={56.7} x2={1} y2={1092} />
        <line x1={2208} y1={56.7} x2={2208} y2={1092} />
        <line x1={0} y1={1092} x2={2208} y2={1092} />
      </g>
      <line x1={2215} y1={0} x2={2215} y2={1102} stroke="#7f7f7f" strokeWidth={2} />
      <line x1={0} y1={1101} x2={2216} y2={1101} stroke="#7f7f7f" strokeWidth={2} />
      <g fill="#ffc000">
        <rect x={0} y={53} width={23} height={4} />
        <rect x={2192} y={53} width={22} height={4} />
        <rect x={2209} y={53} width={5} height={17} />
        <rect x={0} y={1093} width={23} height={7} />
        <rect x={2192} y={1093} width={22} height={7} />
        <rect x={2209} y={1036} width={5} height={64} />
      </g>

      {/* gridlines */}
      <g stroke={GRID} strokeWidth={1.6}>
        {Y_TICKS.filter((v) => v !== 0).map((v) => (
          <line key={"h" + v} x1={x0} x2={x1} y1={y(v)} y2={y(v)} />
        ))}
        <line x1={x0} x2={x1} y1={y(H_AXIS_AT)} y2={y(H_AXIS_AT)} />
        {X_TICK_YEARS.map((yr) => (
          <line key={"v" + yr} x1={x(toDate(yr))} x2={x(toDate(yr))} y1={yt} y2={yb} />
        ))}
      </g>

      {/* axis labels */}
      <g fill={TEXT} fontSize={20} textAnchor="end">
        {Y_TICKS.map((v) => (
          <text key={"yl" + v} x={77} y={y(v) + 7}>{fmtPct(v)}</text>
        ))}
      </g>
      <g fill={TEXT} fontSize={20.5} textAnchor="middle">
        {X_TICK_YEARS.map((yr) => (
          <text key={"xl" + yr} x={x(toDate(yr))} y={1080}>{d3.utcFormat("%d/%m/%Y")(toDate(yr))}</text>
        ))}
      </g>

      {/* data */}
      <path d={zeroPath} stroke="#000" strokeWidth={5} strokeLinecap="round" fill="none" />
      {series.map((s) => (
        <g key={s.name} stroke={s.color} strokeWidth={s.sw} fill="none">
          {s.band.map((d, i) => (
            <g key={"b" + i}>
              <path d={plus(s.r)} transform={`translate(${x(toDate(d[0]))},${y(d[1])})`} />
              <path d={plus(s.r)} transform={`translate(${x(toDate(d[0]))},${y(d[2])})`} />
            </g>
          ))}
          {s.data.map((d, i) => (
            <path key={i} d={plus(s.r)} transform={`translate(${x(toDate(d[0]))},${y(d[1])})`} />
          ))}
        </g>
      ))}

      {/* chart title box */}
      <rect x={249} y={60} width={1711} height={151.7} fill="#fff" />
      <g fill={TEXT} fontSize={28}>
        <text x={258} y={112.5} textLength={1693} lengthAdjust="spacingAndGlyphs">{SUBTITLE[0]}</text>
        <text x={1063} y={155} textLength={80} lengthAdjust="spacingAndGlyphs">{SUBTITLE[1]}</text>
        <text x={456} y={196.7} textLength={1295} lengthAdjust="spacingAndGlyphs">{SUBTITLE[2]}</text>
      </g>

      {/* legend */}
      <rect x={1807} y={193} width={340} height={257} fill="#fff" />
      {series.map((s, i) => (
        <g key={"lg" + s.name}>
          <path d={plus(s.lr)} transform={`translate(1871,${legendY[i]})`} stroke={s.color}
            strokeWidth={s.lsw} fill="none" />
          <text x={1900} y={legendY[i] + 10.5} fontSize={30} fill={TEXT}
            textLength={200} lengthAdjust="spacingAndGlyphs">{s.name}</text>
        </g>
      ))}
      <line x1={1847} x2={1895} y1={legendY[3]} y2={legendY[3]} stroke="#000" strokeWidth={6}
        strokeLinecap="round" />
      <text x={1900} y={legendY[3] + 10.5} fontSize={30} fill={TEXT}
        textLength={56} lengthAdjust="spacingAndGlyphs">{LEGEND[3]}</text>
    </svg>
  );
};

export default App;
